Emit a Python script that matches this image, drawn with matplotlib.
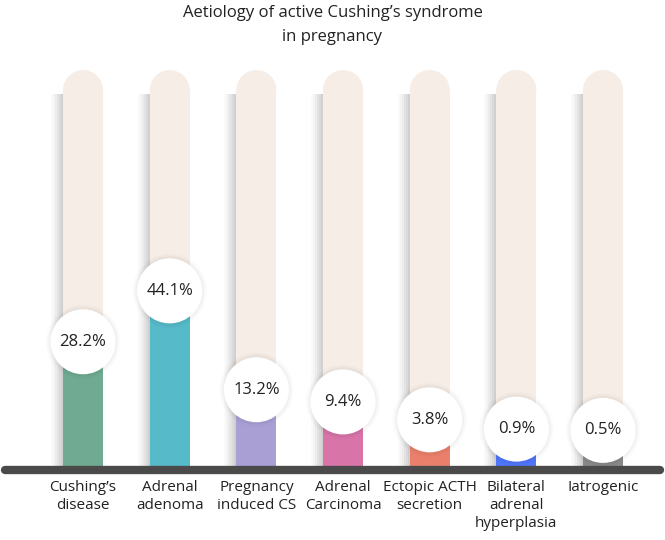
import matplotlib.pyplot as plt
from matplotlib.patches import Ellipse, Rectangle

plt.rcParams['font.family'] = ['Open Sans', 'DejaVu Sans']

# Data
categories = ["Cushing\u2019s\ndisease", "Adrenal\nadenoma", "Pregnancy\ninduced CS",
              "Adrenal\nCarcinoma", "Ectopic ACTH\nsecretion", "Bilateral\nadrenal\nhyperplasia",
              "Iatrogenic"]
values = [28.2, 44.1, 13.2, 9.4, 3.8, 0.9, 0.5]
labels = ["28.2%", "44.1%", "13.2%", "9.4%", "3.8%", "0.9%", "0.5%"]
colors = ["#70aa92", "#56bac9", "#a99fd5", "#d874a8", "#ea806b", "#4f76fb", "#8a8a8a"]

track_color = "#f6ede6"
base_color = "#4a4a4a"

# the infographic does not draw bars to scale: small values are lifted
# so the label bubble clears the baseline
shown = [0.8 * v + 9.5 for v in values]

fig = plt.figure(figsize=(6.65, 5.4), dpi=100)
ax = fig.add_axes([0, 0, 1, 1])
ax.set_xlim(-0.958, 6.715)
ax.set_ylim(-17.5, 117.5)
ax.axis('off')

px_x = 665 / (6.715 + 0.958)   # pixels per x unit
px_y = 4.0                      # pixels per y unit
bw = 40 / px_x                  # bar width
cap_h = 40 / px_y               # height of round cap (circle in display)


def shadow(x, top):
    # soft grey shade on the left side of a bar
    for i, a in enumerate([0.02, 0.025, 0.03, 0.035, 0.04, 0.045]):
        off = (12 - 2 * i) / px_x
        ax.add_patch(Rectangle((x - bw / 2 - off, 0), off, top, color="#000000",
                               alpha=a, lw=0, zorder=1))


for i, (h, c, lab, cat) in enumerate(zip(shown, colors, labels, categories)):
    # background track with rounded top
    top = 100 - cap_h / 2
    shadow(i, top - 1)
    ax.add_patch(Rectangle((i - bw / 2, 0), bw, top, color=track_color, lw=0, zorder=2))
    ax.add_patch(Ellipse((i, top), bw, cap_h, color=track_color, lw=0, zorder=2))

    # coloured value bar
    ax.add_patch(Rectangle((i - bw / 2, 0), bw, h, color=c, lw=0, zorder=3))

    # label bubble with faint halo
    cw, ch = 65 / px_x, 65 / px_y
    for k, a in enumerate([0.012, 0.018, 0.025]):
        g = (5 - 1.6 * k)
        ax.add_patch(Ellipse((i, h), cw + 2 * g / px_x, ch + 2 * g / px_y,
                             color="#000000", alpha=a, lw=0, zorder=4))
    ax.add_patch(Ellipse((i, h), cw, ch, color="white", lw=0, zorder=5))
    ax.text(i, h, lab, ha='center', va='center', fontsize=12, color="#222222", zorder=6)

    ax.text(i, -2.6, cat, ha='center', va='top', fontsize=11, color="#222222",
            linespacing=1.25)

# baseline
ax.plot([-0.9, 6.66], [0, 0], color=base_color, lw=6, solid_capstyle='round', zorder=3.5)

fig.text(0.5, 0.99, "Aetiology of active Cushing\u2019s syndrome\nin pregnancy",
         ha='center', va='top', fontsize=12, color="#222222", linespacing=1.6)

fig.savefig("out.png", dpi=100)
